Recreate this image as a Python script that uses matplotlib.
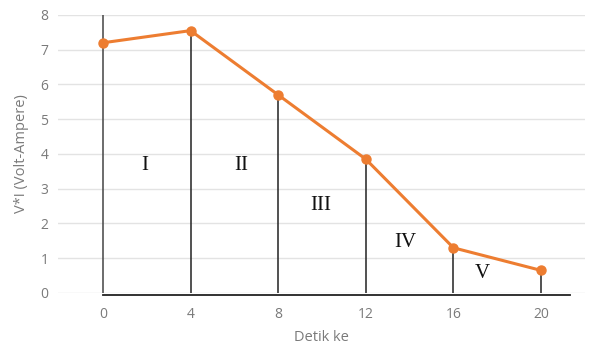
import matplotlib
matplotlib.use("Agg")
import matplotlib.pyplot as plt

seconds = [0, 4, 8, 12, 16, 20]
power = [7.2, 7.55, 5.7, 3.85, 1.3, 0.65]
x_ticks = [0, 4, 8, 12, 16, 20]
y_ticks = [0, 1, 2, 3, 4, 5, 6, 7, 8]
region_labels = ["I", "II", "III", "IV", "V"]
region_x = [1.9, 6.3, 9.95, 13.8, 17.3]
region_y = [3.68, 3.68, 2.53, 1.44, 0.55]

fig = plt.figure(figsize=(5.92, 3.49), dpi=100)
ax = fig.add_axes([0.098, 0.1605, 0.89, 0.7966])

ax.set_xlim(-2.05, 22.0)
ax.set_ylim(0, 8)
ax.set_yticks(y_ticks)
ax.set_xticks(x_ticks)
ax.grid(axis="y", color="#e3e3e3", linewidth=1)
ax.set_axisbelow(True)
for s in ax.spines.values():
    s.set_visible(False)
ax.tick_params(axis="y", length=0, colors="#7a7a7a", labelsize=10, pad=7)
ax.tick_params(axis="x", length=0, colors="#7a7a7a", labelsize=10, pad=10)
for lab in ax.get_xticklabels() + ax.get_yticklabels():
    lab.set_fontfamily("Open Sans")

# vertical region lines
ax.plot([0, 0], [0, 8], color="#444444", linewidth=1.1, zorder=2)
for xv, yv in zip(seconds[1:], power[1:]):
    ax.plot([xv, xv], [0, yv], color="#222222", linewidth=1.1, zorder=2)
# base line
ax.plot([0, 21.3], [-0.07, -0.07], color="#222222", linewidth=1.3, clip_on=False, zorder=2)

ax.plot(seconds, power, color="#ED7D31", linewidth=2.2, marker="o", markersize=6.5, zorder=3)

for t, xv, yv in zip(region_labels, region_x, region_y):
    ax.text(xv, yv, t, ha="center", va="center", fontsize=15, family="Liberation Serif", color="#111111")

ax.set_xlabel("Detik ke", fontsize=10.5, color="#7a7a7a", family="Open Sans", labelpad=6)
ax.set_ylabel("V*I (Volt-Ampere)", fontsize=10.5, color="#7a7a7a", family="Open Sans", labelpad=8)

fig.savefig("out.png", dpi=100)
